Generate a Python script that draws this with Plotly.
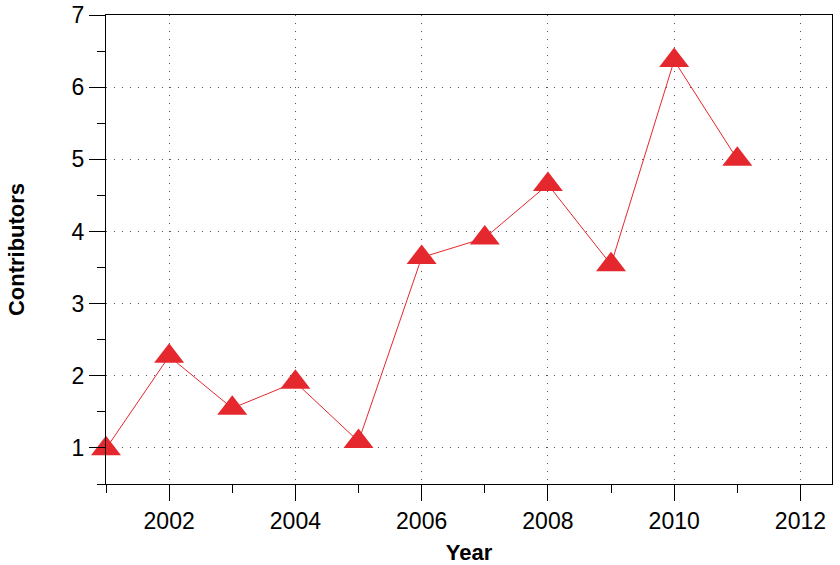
import plotly.graph_objects as go

years = [2001, 2002, 2003, 2004, 2005, 2006, 2007, 2008, 2009, 2010, 2011]
contributors = [0.99, 2.27, 1.55, 1.91, 1.09, 3.64, 3.91, 4.65, 3.54, 6.37, 5.0]

red = "#E4282E"
font = "Liberation Sans, Arial, Helvetica, sans-serif"

fig = go.Figure()
fig.add_trace(go.Scatter(
    x=years, y=contributors,
    mode="lines+markers",
    line=dict(color=red, width=1),
    marker=dict(symbol="triangle-up", size=26, color=red),
    showlegend=False,
    cliponaxis=False,
))

axis_common = dict(
    showline=True, linecolor="black", linewidth=1.3, mirror=True,
    ticks="outside", ticklen=16, tickwidth=1, tickcolor="black",
    showgrid=True, gridcolor="#555", gridwidth=1, griddash="1px,7px",
    zeroline=False, automargin=False,
    tickfont=dict(family=font, size=23, color="black"),
)

fig.update_xaxes(
    range=[2001, 2012.5], tick0=2002, dtick=2,
    minor=dict(ticks="outside", ticklen=8, dtick=1, tick0=2001,
               tickcolor="black", showgrid=False),
    title=dict(text="<b>Year</b>", font=dict(family=font, size=22, color="black"),
               standoff=14),
    **axis_common,
)
fig.update_yaxes(
    range=[0.5, 7], tick0=1, dtick=1,
    minor=dict(ticks="outside", ticklen=8, dtick=0.5, tick0=0.5,
               tickcolor="black", showgrid=False),
    title=dict(text="<b>Contributors</b>", font=dict(family=font, size=22, color="black"),
               standoff=40),
    **axis_common,
)

fig.update_layout(
    width=840, height=565,
    margin=dict(l=106, r=8, t=15, b=81),
    paper_bgcolor="white", plot_bgcolor="white",
    font=dict(family=font),
)

# the page body has a default 8px margin; drop it so the chart sits at the corner
fig.write_html("out.html", config={"displayModeBar": False},
               post_script="document.body.style.margin='0';")
